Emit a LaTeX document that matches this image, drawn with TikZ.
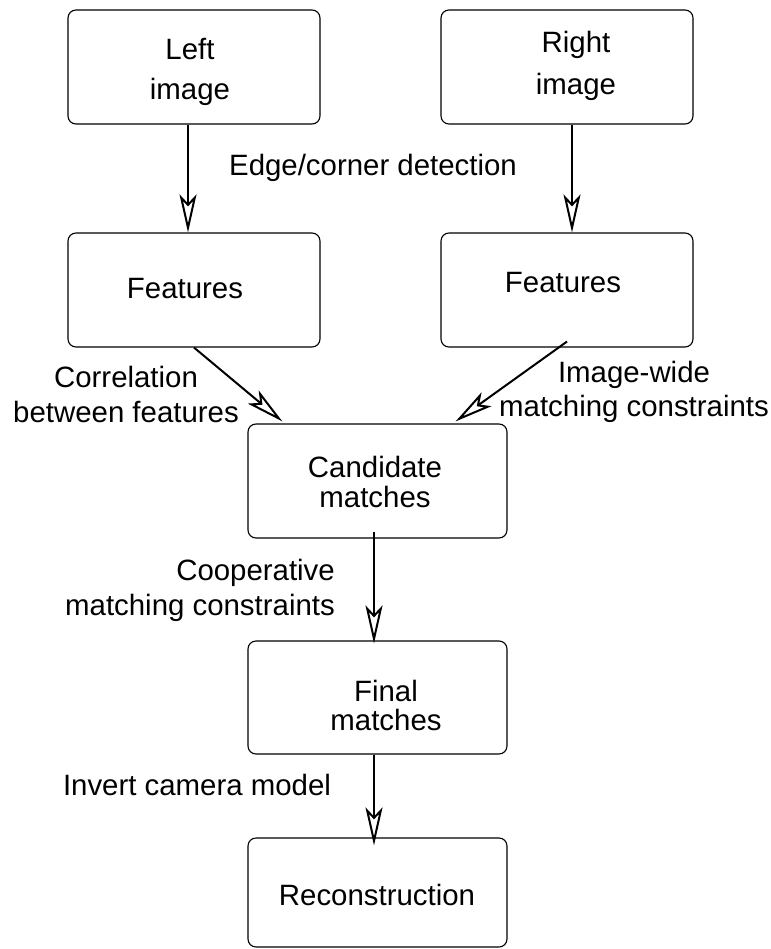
\documentclass[tikz,border=0pt]{standalone}
\usepackage{fontspec}
\setmainfont{Liberation Sans}
\usetikzlibrary{arrows.meta}
\begin{document}
\begin{tikzpicture}[x=1pt,y=-1pt,
  box/.style={draw, line width=1.1pt, rounded corners=8pt, inner sep=0pt, minimum width=252pt, minimum height=114pt},
  cbox/.style={box, minimum width=259pt},
  txt/.style={inner sep=0pt, align=center, font=\fontsize{29.4}{35}\selectfont},
  flow/.style={line width=2pt, -{Stealth[open, length=38pt, width=17pt, inset=9pt, line width=2pt]}}
]
\useasboundingbox (0,0) rectangle (770,949);
% boxes
\node[box] (limg) at (194,67) {};
\node[box] (rimg) at (567,67) {};
\node[box] (lfeat) at (194,290) {};
\node[box] (rfeat) at (567,290) {};
\node[cbox] (cand) at (377.5,481) {};
\node[cbox, minimum height=113pt] (fin) at (377.5,697.5) {};
\node[cbox, minimum height=109pt] (recon) at (377.5,892.5) {};
% box texts
\node[txt, font=\fontsize{29.4}{40}\selectfont] (tlimg) at (190,72) {Left\\image};
\node[txt, font=\fontsize{29.4}{42}\selectfont] (trimg) at (576,66) {Right\\image};
\node[txt] (tlfeat) at (185,288.5) {Features};
\node[txt] (trfeat) at (563,282.5) {Features};
\node[txt, font=\fontsize{29.4}{30}\selectfont] (tcand) at (375,482) {Candidate\\matches};
\node[txt, font=\fontsize{29.4}{29}\selectfont] (tfin) at (386,705) {Final\\matches};
\node[txt] (trecon) at (377,894.5) {Reconstruction};
% labels
\node[txt] (ledge) at (373,167.5) {Edge/corner detection};
\node[txt] (lcorr) at (126,394.5) {Correlation\\between features};
\node[txt, font=\fontsize{29.4}{34}\selectfont] (limgw) at (634,392) {Image-wide\\matching constraints};
\node[txt, align=right, anchor=east] (lcoop) at (335,590) {Cooperative\\matching constraints};
\node[txt] (linv) at (197,785) {Invert camera model};
% arrows
\draw[flow] ([xshift=-6pt]limg.south) -- ([xshift=-6pt]lfeat.north);
\draw[flow] ([xshift=5pt]rimg.south) -- ([xshift=5pt]rfeat.north);
\draw[flow] (lfeat.south) -- ([xshift=35pt,yshift=2pt]cand.north west);
\draw[flow] ([yshift=6pt]rfeat.south) -- ([xshift=-52pt,yshift=2pt]cand.north east);
\draw[flow] ([xshift=-3.5pt,yshift=7pt]cand.south) -- ([xshift=-3.5pt,yshift=-3pt]fin.north);
\draw[flow] ([xshift=-3.5pt]fin.south) -- ([xshift=-3.5pt,yshift=-8pt]recon.north);
\end{tikzpicture}
\end{document}
